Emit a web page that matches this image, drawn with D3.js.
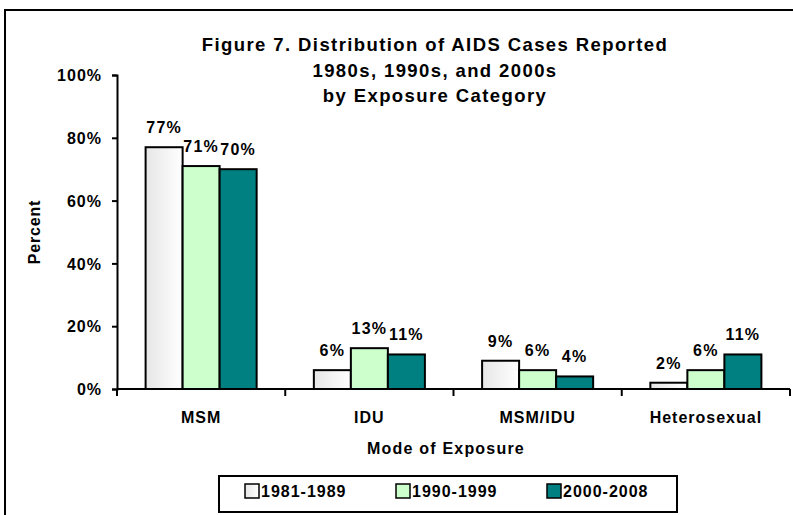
<!DOCTYPE html>
<html>
<head>
<meta charset="utf-8">
<script src="https://cdn.jsdelivr.net/npm/d3@7"></script>
<style>
	body { margin: 0; background: #fff; }
	svg { display: block; }
	text { font-family: "Liberation Sans", Arial, sans-serif; font-weight: bold; fill: #000; }
</style>
</head>
<body>
<div id="chart"></div>
<script>
const categories = ["MSM", "IDU", "MSM/IDU", "Heterosexual"];
const periods = ["1981-1989", "1990-1999", "2000-2008"];
const values1980s = [77, 6, 9, 2];
const values1990s = [71, 13, 6, 6];
const values2000s = [70, 11, 4, 11];
const yTicks = [0, 20, 40, 60, 80, 100];
const titleLines = ["Figure 7. Distribution of AIDS Cases Reported", "1980s, 1990s, and 2000s", "by Exposure Category"];

const seriesValues = [values1980s, values1990s, values2000s];
const fills = ["url(#whiteGrad)", "#ccffcc", "#008080"];

const width = 793, height = 515;
const plot = {left: 117, right: 790, top: 75, bottom: 389};

const svg = d3.select("#chart").append("svg")
	.attr("width", width)
	.attr("height", height);

const grad = svg.append("defs").append("linearGradient")
	.attr("id", "whiteGrad")
	.attr("x1", "0%").attr("x2", "100%").attr("y1", "0%").attr("y2", "0%");
grad.append("stop").attr("offset", "0%").attr("stop-color", "#e6e6e6");
grad.append("stop").attr("offset", "100%").attr("stop-color", "#ffffff");

// outer frame, runs off the right and bottom edges
svg.append("rect")
	.attr("x", 5).attr("y", 10)
	.attr("width", 820).attr("height", 540)
	.attr("fill", "none")
	.attr("stroke", "#000")
	.attr("stroke-width", 2);

const x = d3.scaleBand()
	.domain(categories)
	.range([plot.left, plot.right])
	.paddingInner(0.34)
	.paddingOuter(0.17);

const xInner = d3.scaleBand()
	.domain(periods)
	.range([0, x.bandwidth()]);

const y = d3.scaleLinear()
	.domain([0, 100])
	.range([plot.bottom, plot.top]);

// title
svg.append("text")
	.attr("x", 435)
	.attr("text-anchor", "middle")
	.style("font-size", "18.5px")
	.style("letter-spacing", "1.4px")
	.selectAll("tspan")
	.data(titleLines).enter()
	.append("tspan")
	.attr("x", 435)
	.attr("y", (d, i) => 51 + i*25.5)
	.text(d => d);

// bars
const groups = svg.selectAll(".group")
	.data(categories).enter()
	.append("g")
	.attr("class", "group")
	.attr("transform", d => "translate(" + x(d) + ",0)");

const barData = (cat, ci) => periods.map((p, si) => ({period: p, si: si, value: seriesValues[si][ci]}));

groups.selectAll("rect")
	.data(barData)
	.enter().append("rect")
	.attr("x", d => xInner(d.period))
	.attr("width", xInner.bandwidth())
	.attr("y", d => y(d.value))
	.attr("height", d => y(0) - y(d.value))
	.attr("fill", d => fills[d.si])
	.attr("stroke", "#000")
	.attr("stroke-width", 2);

groups.selectAll(".lbl")
	.data(barData)
	.enter().append("text")
	.attr("class", "lbl")
	.attr("x", d => xInner(d.period) + xInner.bandwidth()/2)
	.attr("y", d => y(d.value) - 14)
	.attr("text-anchor", "middle")
	.style("font-size", "16px")
	.style("letter-spacing", "1.2px")
	.text(d => d.value + "%");

// y axis
const yAxis = svg.append("g")
	.attr("transform", "translate(" + plot.left + ",0)")
	.call(d3.axisLeft(y).tickValues(yTicks).tickSize(5).tickPadding(10).tickFormat(d => d + "%"));
yAxis.select(".domain").attr("stroke", "#000").attr("stroke-width", 2);
yAxis.selectAll(".tick line").attr("stroke", "#000").attr("stroke-width", 2);
yAxis.selectAll(".tick text")
	.attr("font-family", null)
	.attr("font-size", null)
	.style("font-size", "16px")
	.style("letter-spacing", "1px")
	.attr("dy", "0.35em");

// x axis
const step = x.step();
const boundaries = categories.map(c => x(c) - step*x.paddingInner()/2).concat([plot.right]);
svg.append("line")
	.attr("x1", plot.left).attr("x2", plot.right)
	.attr("y1", y(0)).attr("y2", y(0))
	.attr("stroke", "#000").attr("stroke-width", 2);
svg.selectAll(".xtick")
	.data(boundaries).enter()
	.append("line")
	.attr("class", "xtick")
	.attr("x1", d => d).attr("x2", d => d)
	.attr("y1", y(0)).attr("y2", y(0) + 7)
	.attr("stroke", "#000").attr("stroke-width", 2);
svg.selectAll(".xlabel")
	.data(categories).enter()
	.append("text")
	.attr("class", "xlabel")
	.attr("x", d => x(d) + x.bandwidth()/2)
	.attr("y", 423)
	.attr("text-anchor", "middle")
	.style("font-size", "16px")
	.style("letter-spacing", "1px")
	.text(d => d);

// axis titles
svg.append("text")
	.attr("x", 446).attr("y", 454)
	.attr("text-anchor", "middle")
	.style("font-size", "16px")
	.style("letter-spacing", "1.2px")
	.text("Mode of Exposure");

svg.append("text")
	.attr("transform", "translate(40,232) rotate(-90)")
	.attr("text-anchor", "middle")
	.style("font-size", "16px")
	.style("letter-spacing", "0.8px")
	.text("Percent");

// legend
const legend = svg.append("g");
legend.append("rect")
	.attr("x", 219).attr("y", 476)
	.attr("width", 458).attr("height", 36)
	.attr("fill", "#fff")
	.attr("stroke", "#000")
	.attr("stroke-width", 2);
const items = legend.selectAll(".item")
	.data(periods).enter()
	.append("g")
	.attr("class", "item")
	.attr("transform", (d, i) => "translate(" + (245 + i*151) + ",484)");
items.append("rect")
	.attr("width", 14).attr("height", 14)
	.attr("fill", (d, i) => fills[i])
	.attr("stroke", "#000")
	.attr("stroke-width", 1.5);
items.append("text")
	.attr("x", 16).attr("y", 13)
	.style("font-size", "16px")
	.style("letter-spacing", "1px")
	.text(d => d);
</script>
</body>
</html>
